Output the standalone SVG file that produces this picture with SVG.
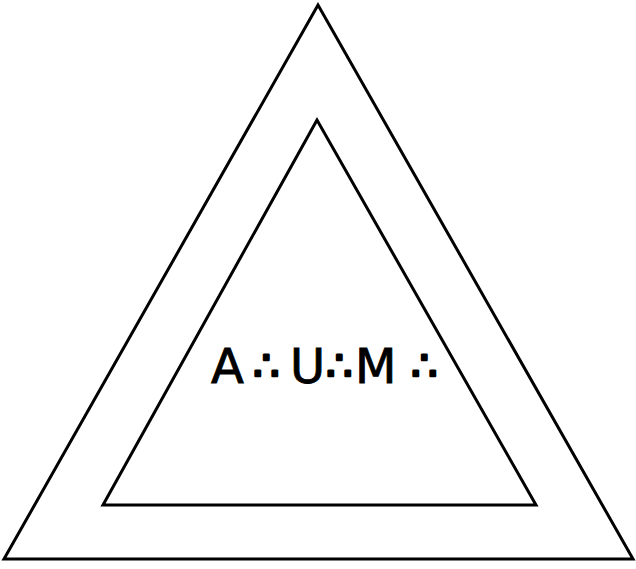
<svg xmlns="http://www.w3.org/2000/svg" width="636" height="569" viewBox="0 0 636 569">
<style>
.tri{fill:none;stroke:#000;stroke-width:3;stroke-linejoin:miter}
.lbl{font-family:"DejaVu Sans","Liberation Sans",sans-serif;font-size:48px;fill:#000;stroke:#000;stroke-width:0.9}
.dots{font-family:"DejaVu Sans","Liberation Sans",sans-serif;font-size:42px;fill:#000;stroke:#000;stroke-width:2.6;stroke-linejoin:round}
</style>
<rect width="636" height="569" fill="#fff"/>
<g id="outer"><polygon class="tri" points="318,5 4,559 633,559"/></g>
<g id="inner"><polygon class="tri" points="317,120 103,505 536,505"/></g>
<g id="label"><text class="lbl" y="383"><tspan x="211">A</tspan><tspan x="290">U</tspan><tspan x="355">M</tspan></text><text class="dots" y="380"><tspan x="253">∴</tspan><tspan x="326">∴</tspan><tspan x="411">∴</tspan></text></g>
</svg>
